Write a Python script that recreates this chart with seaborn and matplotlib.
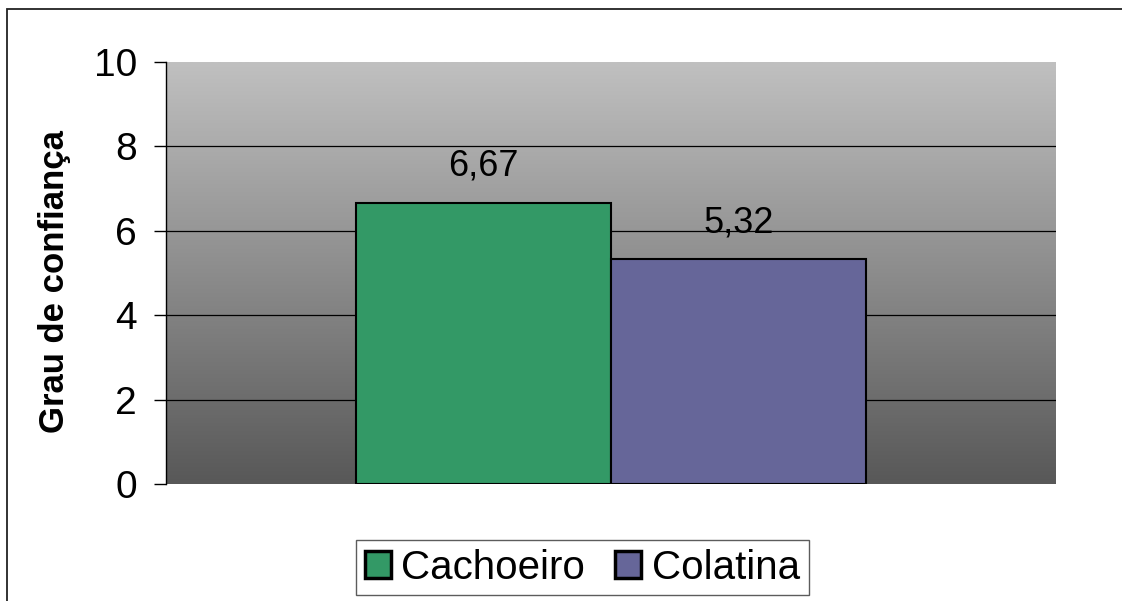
import numpy as np
import pandas as pd
import matplotlib
matplotlib.use('Agg')
import matplotlib.pyplot as plt
from matplotlib.colors import LinearSegmentedColormap
from matplotlib.patches import Patch, Rectangle
import seaborn as sns

cidades = ['Cachoeiro', 'Colatina']
valores = [6.67, 5.32]
rotulos = ['6,67', '5,32']
cores = ['#339966', '#666699']
yticks = [0, 2, 4, 6, 8, 10]

sns.set_style('white')
plt.rcParams['font.family'] = ['Liberation Sans', 'DejaVu Sans']
plt.rcParams['text.color'] = 'black'
plt.rcParams['axes.labelcolor'] = 'black'
plt.rcParams['ytick.color'] = 'black'

df = pd.DataFrame({'grupo': ['', ''], 'cidade': cidades, 'valor': valores})

fig = plt.figure(figsize=(11.22, 6.01), dpi=100)
ax = fig.add_axes([166 / 1122, 1 - 484 / 601, 890 / 1122, 422 / 601])

# fundo em degrade
cmap = LinearSegmentedColormap.from_list('fundo', ['#585858', '#c0c0c0'])
ax.imshow(np.linspace(0, 1, 256).reshape(-1, 1), extent=(-0.5, 0.5, 0, 10),
          aspect='auto', cmap=cmap, origin='lower', zorder=0)

sns.barplot(data=df, x='grupo', y='valor', hue='cidade', palette=cores,
            width=0.574, edgecolor='black', linewidth=1.5, saturation=1,
            legend=False, ax=ax, zorder=3)

for cont, lab in zip(ax.containers, rotulos):
    ax.bar_label(cont, labels=[lab], padding=14, fontsize=26, color='black')

ax.set_xlim(-0.5, 0.5)
ax.set_ylim(0, 10)
ax.set_yticks(yticks)
ax.set_yticklabels([str(t) for t in yticks], fontsize=28)
ax.set_xticks([])
ax.set_xlabel('')
ax.set_ylabel('Grau de confiança', fontsize=25, fontweight='bold')
ax.yaxis.set_label_coords(-0.107, 0.48)
ax.tick_params(axis='y', direction='out', length=9, width=1, color='black', pad=12, left=True)
for t in [2, 4, 6, 8]:
    ax.axhline(t, color='black', lw=0.9, zorder=1)
for s in ['top', 'right', 'bottom']:
    ax.spines[s].set_visible(False)
ax.spines['left'].set_color('black')
ax.spines['left'].set_linewidth(1)

handles = [Patch(facecolor=c, edgecolor='black', linewidth=2.5) for c in cores]
leg = fig.legend(handles, cidades, loc='center', bbox_to_anchor=(0.519, 0.0557),
                 ncol=2, fontsize=29, frameon=True, fancybox=False,
                 handlelength=0.65, handleheight=0.65, handletextpad=0.26,
                 columnspacing=0.75, borderpad=0.22)
leg.get_frame().set_edgecolor('#333333')
leg.get_frame().set_linewidth(1)

fig.add_artist(Rectangle((7 / 1122, -0.1), 1.2, 1.1 - 9 / 601, transform=fig.transFigure,
                         fill=False, edgecolor='#222222', linewidth=1.3))

fig.savefig('out.png', dpi=100)
